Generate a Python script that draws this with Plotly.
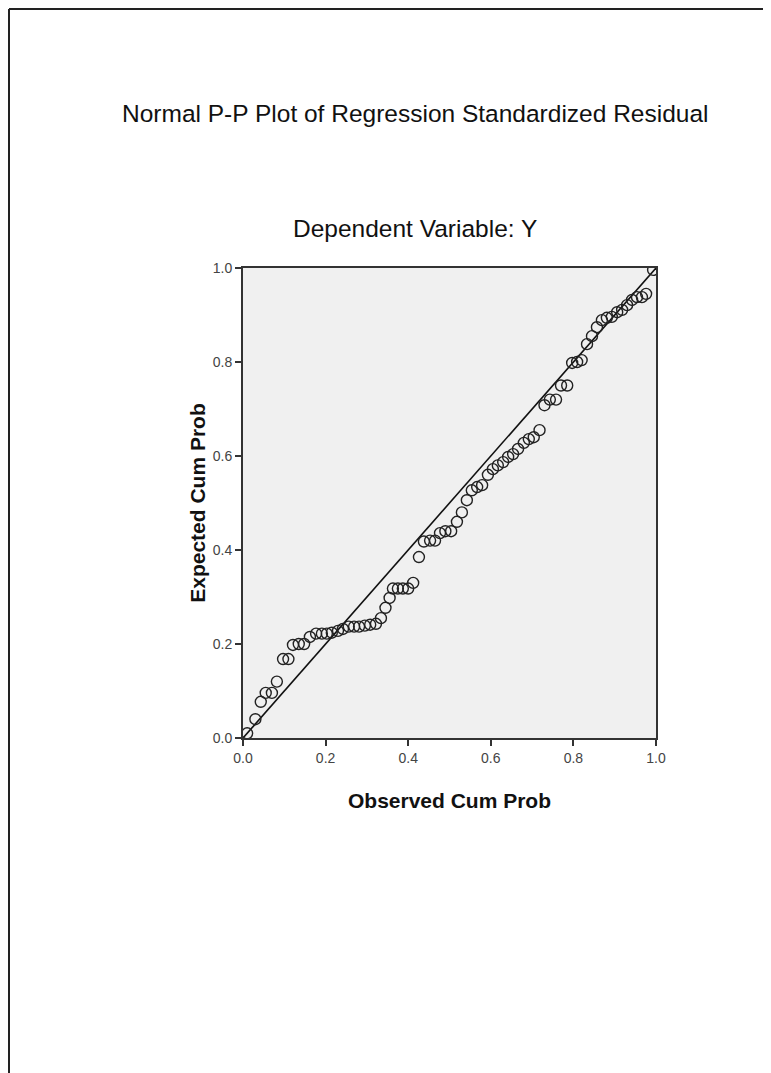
import plotly.graph_objects as go

# Observed cumulative probabilities (x) and expected cumulative probabilities (y)
observed = [
    0.010, 0.030, 0.043, 0.055, 0.070, 0.082, 0.097, 0.110, 0.121, 0.135,
    0.148, 0.162, 0.177, 0.191, 0.203, 0.215, 0.230, 0.242, 0.256, 0.269,
    0.281, 0.295, 0.308, 0.322, 0.334, 0.345, 0.355, 0.363, 0.375, 0.387,
    0.400, 0.412, 0.426, 0.438, 0.453, 0.465, 0.477, 0.490, 0.504, 0.518,
    0.530, 0.542, 0.554, 0.567, 0.579, 0.593, 0.605, 0.617, 0.630, 0.642,
    0.654, 0.666, 0.680, 0.692, 0.704, 0.718, 0.730, 0.743, 0.758, 0.770,
    0.785, 0.797, 0.809, 0.820, 0.833, 0.845, 0.857, 0.869, 0.881, 0.893,
    0.906, 0.918, 0.930, 0.942, 0.954, 0.966, 0.976, 0.993,
]
expected = [
    0.010, 0.040, 0.077, 0.096, 0.096, 0.120, 0.168, 0.168, 0.198, 0.200,
    0.200, 0.215, 0.222, 0.222, 0.222, 0.224, 0.228, 0.232, 0.237, 0.237,
    0.237, 0.239, 0.241, 0.243, 0.255, 0.277, 0.298, 0.318, 0.318, 0.318,
    0.318, 0.330, 0.385, 0.418, 0.420, 0.420, 0.436, 0.440, 0.440, 0.460,
    0.480, 0.506, 0.527, 0.534, 0.538, 0.560, 0.572, 0.580, 0.587, 0.598,
    0.604, 0.615, 0.628, 0.636, 0.640, 0.655, 0.708, 0.720, 0.720, 0.750,
    0.750, 0.798, 0.800, 0.804, 0.838, 0.855, 0.874, 0.889, 0.894, 0.896,
    0.906, 0.911, 0.921, 0.932, 0.938, 0.938, 0.945, 0.996,
]
ref_line = [0.0, 1.0]
tick_vals = [0.0, 0.2, 0.4, 0.6, 0.8, 1.0]

title_text = "Normal P-P Plot of Regression Standardized Residual"
subtitle_text = "Dependent Variable: Y"
x_title = "Observed Cum Prob"
y_title = "Expected Cum Prob"

OFF = 8  # page offset of the figure inside the browser
W, H = 771 - OFF, 1073 - OFF
L, T = 243 - OFF, 268 - OFF
pw, ph = 413, 470
R, B = W - L - pw, H - T - ph

def px_x(p):
    # page pixel -> paper x
    return (p - OFF - L) / pw

def px_y(p):
    # page pixel -> paper y
    return (T + ph - (p - OFF)) / ph

fig = go.Figure()
fig.add_trace(go.Scatter(
    x=ref_line, y=ref_line, mode="lines",
    line=dict(color="#111111", width=1.6), showlegend=False, hoverinfo="skip",
))
fig.add_trace(go.Scatter(
    x=observed, y=expected, mode="markers",
    marker=dict(symbol="circle-open", size=11, color="#222222",
                line=dict(width=1.4, color="#222222")),
    showlegend=False,
))

font_family = "Liberation Sans, Arial, sans-serif"

fig.update_layout(
    width=W, height=H,
    margin=dict(l=L, r=R, t=T, b=B),
    paper_bgcolor="white",
    plot_bgcolor="#f0f0f0",
    font=dict(family=font_family, color="#222222"),
    xaxis=dict(
        range=[0, 1], tickvals=tick_vals, tickformat=".1f",
        ticks="outside", ticklen=6, tickwidth=1.5, tickcolor="#333333",
        showline=True, linecolor="#333333", linewidth=2, mirror=True,
        showgrid=False, zeroline=False,
        tickfont=dict(size=14, color="#444444"),
        title=dict(text="<b>" + x_title + "</b>", font=dict(size=21, color="#111111"), standoff=29),
    ),
    yaxis=dict(
        range=[0, 1], tickvals=tick_vals, tickformat=".1f",
        ticks="outside", ticklen=6, tickwidth=1.5, tickcolor="#333333",
        showline=True, linecolor="#333333", linewidth=2, mirror=True,
        showgrid=False, zeroline=False,
        tickfont=dict(size=14, color="#444444"),
        title=dict(text="<b>" + y_title + "</b>", font=dict(size=21, color="#111111"), standoff=1),
    ),
    annotations=[
        dict(text=title_text, xref="paper", yref="paper",
             x=px_x(415), y=px_y(113), xanchor="center", yanchor="middle",
             showarrow=False, font=dict(size=24.5, color="#111111")),
        dict(text=subtitle_text, xref="paper", yref="paper",
             x=px_x(415), y=px_y(229), xanchor="center", yanchor="middle",
             showarrow=False, font=dict(size=24.5, color="#111111")),
    ],
    shapes=[
        dict(type="line", xref="paper", yref="paper",
             x0=px_x(9), x1=px_x(771), y0=px_y(9), y1=px_y(9),
             line=dict(color="#222222", width=2)),
        dict(type="line", xref="paper", yref="paper",
             x0=px_x(9), x1=px_x(9), y0=px_y(9), y1=px_y(1073),
             line=dict(color="#222222", width=2)),
    ],
)

fig.write_html("out.html")
